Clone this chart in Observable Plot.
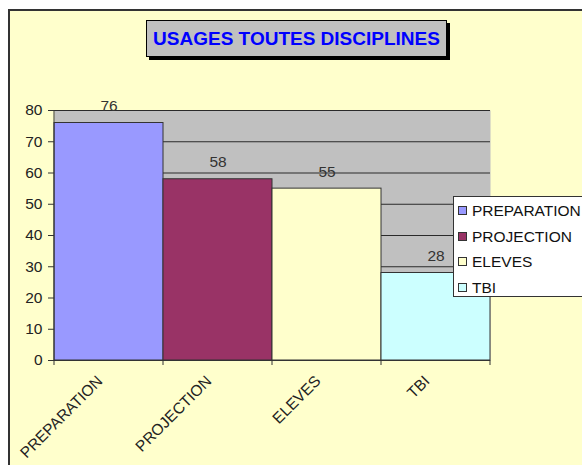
<!DOCTYPE html>
<html><head><meta charset="utf-8">
<script src="https://cdn.jsdelivr.net/npm/d3@7"></script>
<script src="https://cdn.jsdelivr.net/npm/@observablehq/plot@0.6"></script>
<style>
body{margin:0;background:#fff;}
#wrap{position:relative;width:582px;height:465px;overflow:hidden;font-family:Arial,"Liberation Sans",sans-serif;}
#bg{position:absolute;left:8px;top:9px;width:600px;height:500px;background:#FFFFCC;border-left:2px solid #333;border-top:2px solid #333;}
#chart{position:absolute;left:0;top:0;}
#title{position:absolute;left:146px;top:20px;width:299px;height:35px;background:#C0C0C0;border:1px solid #000;box-shadow:3px 3px 0 #000;color:#0000FF;font-weight:bold;font-size:19px;line-height:35px;text-align:center;white-space:nowrap;}
#legend{position:absolute;left:453px;top:196px;width:150px;height:101px;background:#fff;border:1px solid #333;box-sizing:border-box;}
.item{position:absolute;left:4px;height:20px;line-height:20px;font-size:15.5px;color:#111;white-space:nowrap;}
.sw{display:inline-block;width:7px;height:7px;border:1px solid #333;margin-right:5px;vertical-align:middle;position:relative;top:-1px;}
</style>
</head><body>
<div id="wrap"><div id="bg"></div><div id="chart"></div><div id="title"></div><div id="legend"></div></div>
<script>
const categories = ["PREPARATION","PROJECTION","ELEVES","TBI"];
const values = [76, 58, 55, 28];
const colors = ["#9999FF","#993366","#FFFFCC","#CCFFFF"];
const yTicks = [0,10,20,30,40,50,60,70,80];
const titleText = "USAGES TOUTES DISCIPLINES";

const data = categories.map((c,i)=>({cat:c, value:values[i]}));

const chart = Plot.plot({
  width:582, height:465,
  marginLeft:54, marginRight:92, marginTop:110, marginBottom:105,
  style:{background:"transparent", fontFamily:"Arial, 'Liberation Sans', sans-serif", fontSize:"15.5px", color:"#222"},
  x:{domain:categories, padding:0, label:null},
  y:{domain:[0,80], ticks:yTicks, label:null},
  color:{domain:categories, range:colors},
  marks:[
    Plot.frame({fill:"#C0C0C0", stroke:"none"}),
    Plot.gridY(yTicks, {stroke:"#2a2a2a", strokeOpacity:1, strokeWidth:1.2}),
    Plot.barY(data, {x:"cat", y:"value", fill:"cat", stroke:"#333", strokeWidth:1}),
    Plot.text(data, {x:"cat", y:"value", text:d=>String(d.value), dy:-17, fill:"#333", fontSize:15.5}),
    Plot.ruleY([0], {stroke:"#333"}),
    Plot.axisY(yTicks, {tickSize:6, tickPadding:6, fontSize:15.5, stroke:"#333"}),
    Plot.axisX({tickSize:0, tickRotate:-45, tickPadding:18, dx:-9, fontSize:15.5})
  ]
});
document.getElementById("chart").appendChild(chart);

// axis line and category boundary ticks using the plot's scales
const xs = chart.scale("x"), ys = chart.scale("y");
const svg = d3.select(chart);
const g = svg.append("g").attr("stroke","#333");
const edges = categories.map(c=>xs.apply(c)).concat([xs.apply(categories[categories.length-1]) + xs.bandwidth]);
const y0 = ys.apply(0), yTop = ys.apply(80);
g.append("line").attr("x1",edges[0]).attr("x2",edges[0]).attr("y1",yTop).attr("y2",y0);
edges.forEach(e=>g.append("line").attr("x1",e).attr("x2",e).attr("y1",y0).attr("y2",y0+5));

document.getElementById("title").textContent = titleText;
const leg = document.getElementById("legend");
categories.forEach((c,i)=>{
  const d = document.createElement("div");
  d.className="item"; d.style.top=(4+i*25.5)+"px";
  d.innerHTML = `<span class="sw" style="background:${colors[i]}"></span>${c}`;
  leg.appendChild(d);
});
</script>
</body></html>
